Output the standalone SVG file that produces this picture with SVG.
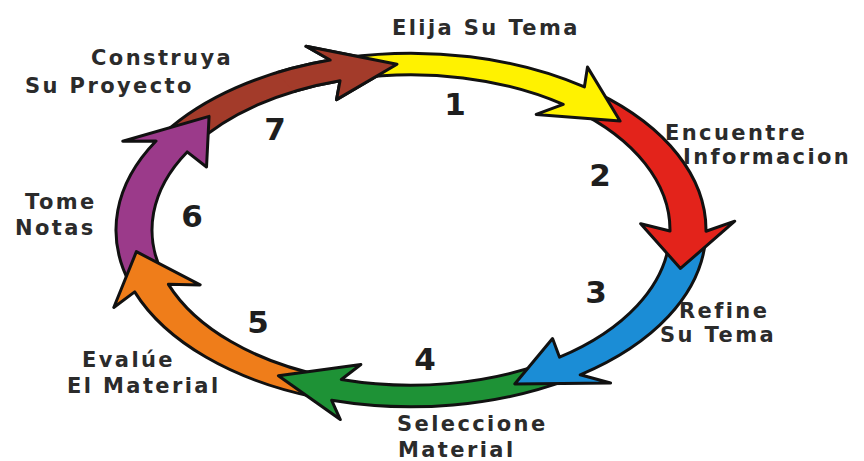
<svg xmlns="http://www.w3.org/2000/svg" xmlns:xlink="http://www.w3.org/1999/xlink" width="864" height="461" viewBox="0 0 864 461">
<style>
.arr{stroke:#111;stroke-width:3;stroke-linejoin:round;vector-effect:non-scaling-stroke}
.lbl{font-family:"DejaVu Sans",Verdana,sans-serif;font-weight:bold;font-size:21px;fill:#2b2b2b;letter-spacing:2.4px}
.num{font-family:"DejaVu Sans",Verdana,sans-serif;font-weight:bold;font-size:31px;fill:#1e1e1e;text-anchor:middle}
</style>
<defs>
<clipPath id="c7" clipPathUnits="userSpaceOnUse">
<polygon points="0,0 -72.6,-142.6 41.4,-154.5"/>
</clipPath>
</defs>
<rect width="864" height="461" fill="#fff"/>
<g id="step7">
<path id="a7" class="arr" fill="#A33B2A" transform="matrix(2.77 0 0 1.66 411 230)" d="M-89.12,-58.32 A106.5,106.5 0 0 1 -29.18,-102.42 L-37.90,-110.69 L-5.06,-99.87 L-26.88,-78.53 L-25.62,-89.92 A93.5,93.5 0 0 0 -78.24,-51.20 Z"/>
<text class="num" x="275" y="140">7</text>
<text class="lbl" x="91" y="65">Construya</text>
<text class="lbl" x="25" y="93">Su Proyecto</text>
</g>
<g id="step6">
<path id="a6" class="arr" fill="#9B3A8A" transform="matrix(2.77 0 0 1.66 411 230)" d="M-101.57,32.02 A106.5,106.5 0 0 1 -92.05,-53.57 L-104.06,-53.48 L-72.90,-68.45 L-73.82,-37.94 L-80.81,-47.03 A93.5,93.5 0 0 0 -89.17,28.12 Z"/>
<text class="num" x="192" y="227">6</text>
<text class="lbl" x="25" y="209">Tome</text>
<text class="lbl" x="15" y="235">Notas</text>
</g>
<g id="step5">
<path id="a5" class="arr" fill="#EF7D1A" transform="matrix(2.77 0 0 1.66 411 230)" d="M-33.97,100.94 A106.5,106.5 0 0 1 -99.76,37.30 L-107.30,46.65 L-99.14,13.05 L-76.12,33.09 L-87.58,32.74 A93.5,93.5 0 0 0 -29.83,88.62 Z"/>
<text class="num" x="258" y="333">5</text>
<text class="lbl" x="82" y="367">Evalúe</text>
<text class="lbl" x="67" y="393">El Material</text>
</g>
<g id="step4">
<path id="a4" class="arr" fill="#1E9236" transform="matrix(2.77 0 0 1.66 411 230)" d="M56.43,90.31 A106.5,106.5 0 0 1 -28.64,102.58 L-25.52,114.18 L-47.87,87.80 L-18.10,81.00 L-25.14,90.06 A93.5,93.5 0 0 0 49.55,79.29 Z"/>
<text class="num" x="425" y="370">4</text>
<text class="lbl" x="397" y="431">Seleccione</text>
<text class="lbl" x="398" y="457">Material</text>
</g>
<g id="step3">
<path id="a3" class="arr" fill="#1B8DD6" transform="matrix(2.77 0 0 1.66 411 230)" d="M106.31,6.32 A106.5,106.5 0 0 1 61.09,87.24 L72.04,92.20 L37.46,92.72 L51.10,65.40 L53.63,76.60 A93.5,93.5 0 0 0 93.33,5.54 Z"/>
<text class="num" x="596" y="303">3</text>
<text class="lbl" x="679" y="318">Refine</text>
<text class="lbl" x="660" y="342">Su Tema</text>
</g>
<g id="step2">
<path id="a2" class="arr" fill="#E3231B" transform="matrix(2.77 0 0 1.66 411 230)" d="M67.02,-82.76 A106.5,106.5 0 0 1 106.50,0.75 L116.88,-5.31 L97.28,23.17 L82.92,-3.77 L93.50,0.65 A93.5,93.5 0 0 0 58.84,-72.66 Z"/>
<text class="num" x="600" y="186">2</text>
<text class="lbl" x="665" y="140">Encuentre</text>
<text class="lbl" x="683" y="164">Informacion</text>
</g>
<g id="step1">
<path id="a1" class="arr" fill="#FFF200" transform="matrix(2.77 0 0 1.66 411 230)" d="M-23.78,-103.82 A106.5,106.5 0 0 1 62.60,-86.16 L63.72,-98.13 L75.47,-65.61 L45.20,-69.61 L54.96,-75.64 A93.5,93.5 0 0 0 -20.88,-91.14 Z"/>
<text class="num" x="455" y="115">1</text>
<text class="lbl" x="392" y="35">Elija Su Tema</text>
</g>
<g id="step7-head-overlay" transform="matrix(2.77 0 0 1.66 411 230)">
<path class="arr" fill="#A33B2A" clip-path="url(#c7)" d="M-89.12,-58.32 A106.5,106.5 0 0 1 -29.18,-102.42 L-37.90,-110.69 L-5.06,-99.87 L-26.88,-78.53 L-25.62,-89.92 A93.5,93.5 0 0 0 -78.24,-51.20 Z"/>
</g>
</svg>
